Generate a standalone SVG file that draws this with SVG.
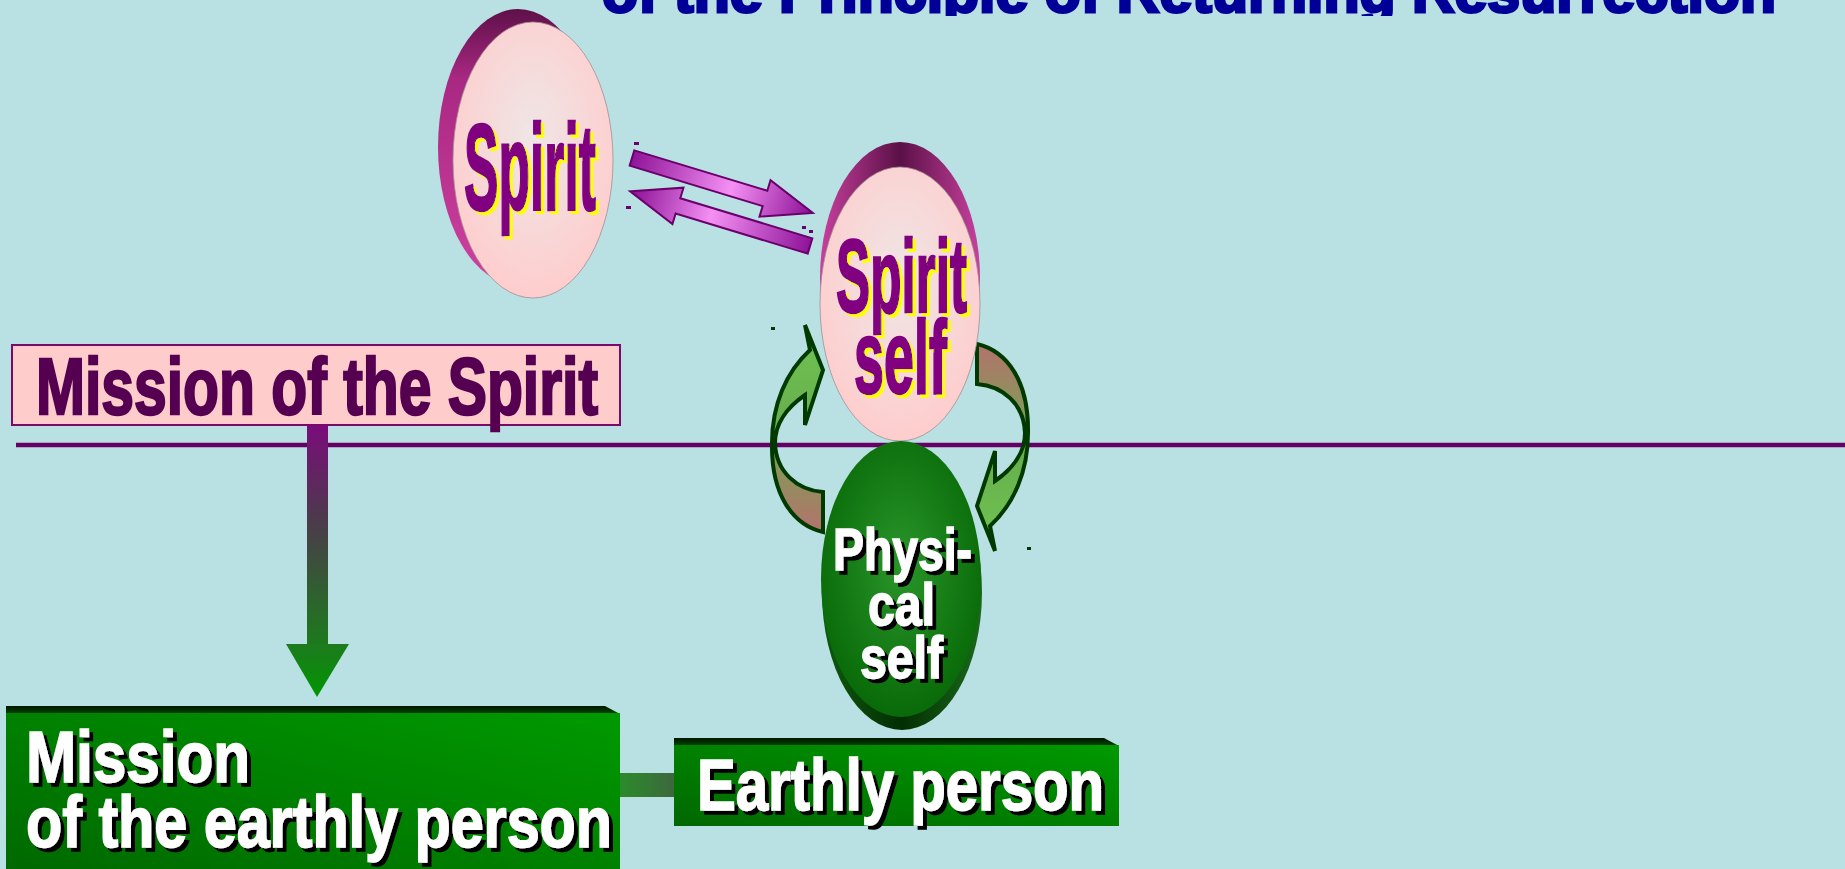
<svg xmlns="http://www.w3.org/2000/svg" width="1845" height="869" viewBox="0 0 1845 869">
<style>
.cond{font-family:"Liberation Sans Narrow","Liberation Sans",Arial,sans-serif;font-weight:bold;}
.purp{fill:#800080;stroke:#800080;stroke-width:2.5;paint-order:stroke;filter:url(#shY);}
.wht{fill:#FFFFFF;stroke:#FFFFFF;stroke-width:1.6;filter:url(#shK);}
.blk{stroke:#6A006A;stroke-width:2;}
.garrow{stroke:#003A00;stroke-width:4;stroke-linejoin:miter;}
</style>
<defs>
<filter id="shY" x="-10%" y="-10%" width="125%" height="125%">
<feOffset in="SourceAlpha" dx="3" dy="3" result="o"/>
<feFlood flood-color="#FFFF00"/>
<feComposite in2="o" operator="in" result="s"/>
<feMerge><feMergeNode in="s"/><feMergeNode in="SourceGraphic"/></feMerge>
</filter>
<filter id="shK" x="-10%" y="-10%" width="125%" height="125%">
<feOffset in="SourceAlpha" dx="3.5" dy="3.5" result="o"/>
<feFlood flood-color="#000000"/>
<feComposite in2="o" operator="in" result="s"/>
<feMerge><feMergeNode in="s"/><feMergeNode in="SourceGraphic"/></feMerge>
</filter>
<clipPath id="titleClip"><rect x="0" y="0" width="1845" height="16"/></clipPath>
<radialGradient id="pinkFace" cx="0.5" cy="0.42" r="0.6">
<stop offset="0" stop-color="#EFE6E6"/>
<stop offset="1" stop-color="#FFCCCC"/>
</radialGradient>
<linearGradient id="rimSpirit" x1="0" y1="0" x2="0" y2="1">
<stop offset="0" stop-color="#5E1048"/>
<stop offset="0.25" stop-color="#A82882"/>
<stop offset="1" stop-color="#D040A0"/>
</linearGradient>
<linearGradient id="rimSelf" x1="0" y1="0" x2="1" y2="0">
<stop offset="0" stop-color="#C8409E"/>
<stop offset="0.5" stop-color="#5A1046"/>
<stop offset="1" stop-color="#C8409E"/>
</linearGradient>
<radialGradient id="greenFace" cx="0.5" cy="0.45" r="0.6">
<stop offset="0" stop-color="#2A962A"/>
<stop offset="1" stop-color="#056605"/>
</radialGradient>
<linearGradient id="rimGreen" x1="0" y1="0" x2="1" y2="0">
<stop offset="0" stop-color="#0E5A0E"/>
<stop offset="0.5" stop-color="#032E03"/>
<stop offset="1" stop-color="#1A6A1A"/>
</linearGradient>
<linearGradient id="blockArrow" x1="0" y1="0" x2="1" y2="0">
<stop offset="0" stop-color="#8E1498"/>
<stop offset="0.55" stop-color="#F490F4"/>
<stop offset="1" stop-color="#8A0E94"/>
</linearGradient>
<linearGradient id="curveArrow" x1="0" y1="0" x2="0" y2="1">
<stop offset="0" stop-color="#70C452"/>
<stop offset="0.45" stop-color="#68B04E"/>
<stop offset="1" stop-color="#B4726C"/>
</linearGradient>
<linearGradient id="vShaft" x1="0" y1="0" x2="0" y2="1">
<stop offset="0" stop-color="#7A0C7A"/>
<stop offset="0.45" stop-color="#4A3C4A"/>
<stop offset="1" stop-color="#1C7A1C"/>
</linearGradient>
<linearGradient id="vHead" x1="0" y1="0" x2="0" y2="1">
<stop offset="0" stop-color="#1E7A1E"/>
<stop offset="1" stop-color="#009600"/>
</linearGradient>
<linearGradient id="boxGreen" x1="0" y1="1" x2="1" y2="0">
<stop offset="0" stop-color="#006800"/>
<stop offset="1" stop-color="#009A00"/>
</linearGradient>
<linearGradient id="boxTop" x1="0" y1="0" x2="0" y2="1">
<stop offset="0" stop-color="#001400"/>
<stop offset="1" stop-color="#004A00"/>
</linearGradient>
<linearGradient id="bar" x1="0" y1="0" x2="1" y2="0">
<stop offset="0" stop-color="#2A8C2A"/>
<stop offset="1" stop-color="#3E663E"/>
</linearGradient>
</defs>

<rect x="0" y="0" width="1845" height="869" fill="#B9E0E3"/>

<g id="title" clip-path="url(#titleClip)">
<text class="cond" x="602" y="12" font-size="60" textLength="1174" lengthAdjust="spacingAndGlyphs" fill="#000099" stroke="#000099" stroke-width="3">of the Principle of Returning Resurrection</text>
</g>

<line id="divider" x1="16" y1="445" x2="1845" y2="445" stroke="#660066" stroke-width="4.5"/>

<g id="connectors">
<g transform="translate(632,158) rotate(16.9)">
<polygon class="blk" fill="url(#blockArrow)" points="0,-8 139,-8 139,-19 189,0 139,19 139,8 0,8"/>
</g>
<g transform="translate(810,246) rotate(196.9)">
<polygon class="blk" fill="url(#blockArrow)" points="0,-8 138,-8 138,-19 188,0 138,19 138,8 0,8"/>
</g>
<rect x="634" y="142" width="5" height="3" fill="#6A006A"/>
<rect x="626" y="206" width="5" height="3" fill="#6A006A"/>
<rect x="802" y="226" width="4" height="3" fill="#6A006A"/>
<rect x="809" y="230" width="4" height="3" fill="#6A006A"/>
<path id="curveLeft" class="garrow" fill="url(#curveArrow)" d="M823,532 C793,525 771,495 772,443 C772,405 786,372 810,350 L805,325 L823,370 L805,425 L805,395 C786,408 775,425 775,443 C776,472 797,490 823,492 Z"/>
<path id="curveRight" class="garrow" fill="url(#curveArrow)" transform="rotate(180 900 438)" d="M823,532 C793,525 771,495 772,443 C772,405 786,372 810,350 L805,325 L823,370 L805,425 L805,395 C786,408 775,425 775,443 C776,472 797,490 823,492 Z"/>
<rect x="771" y="327" width="4" height="3" fill="#003A00"/>
<rect x="1027" y="547" width="4" height="3" fill="#003A00"/>
<rect x="307" y="425" width="21" height="220" fill="url(#vShaft)"/>
<polygon points="286,644 349,644 317,697" fill="url(#vHead)"/>
<rect x="619" y="773" width="58" height="24" fill="url(#bar)"/>
</g>

<g id="node-spirit">
<ellipse cx="518" cy="147" rx="80" ry="138" fill="url(#rimSpirit)"/>
<ellipse cx="533" cy="160" rx="80" ry="138" fill="url(#pinkFace)" stroke="#A09090" stroke-width="0.8"/>
<text class="cond purp" x="464" y="210" font-size="122" textLength="132" lengthAdjust="spacingAndGlyphs">Spirit</text>
</g>

<g id="node-spirit-self">
<ellipse cx="900" cy="278" rx="80" ry="136" fill="url(#rimSelf)"/>
<ellipse cx="900" cy="304" rx="80" ry="137" fill="url(#pinkFace)" stroke="#A09090" stroke-width="0.8"/>
<text class="cond purp" x="836" y="312" font-size="103" textLength="131" lengthAdjust="spacingAndGlyphs">Spirit</text>
<text class="cond purp" x="854" y="393" font-size="103" textLength="93" lengthAdjust="spacingAndGlyphs">self</text>
</g>

<g id="node-physical-self">
<ellipse cx="902" cy="592" rx="80" ry="138" fill="url(#rimGreen)"/>
<ellipse cx="901" cy="579" rx="80" ry="138" fill="url(#greenFace)"/>
<text class="cond wht" x="833" y="570" font-size="60" textLength="139" lengthAdjust="spacingAndGlyphs">Physi-</text>
<text class="cond wht" x="868" y="625" font-size="60" textLength="67" lengthAdjust="spacingAndGlyphs">cal</text>
<text class="cond wht" x="860" y="678" font-size="60" textLength="83" lengthAdjust="spacingAndGlyphs">self</text>
</g>

<g id="node-mission-spirit">
<rect x="12" y="345" width="608" height="80" fill="#FFCCCC" stroke="#7A0A6A" stroke-width="2"/>
<text class="cond" x="36" y="414" font-size="80" textLength="562" lengthAdjust="spacingAndGlyphs" fill="#550050" stroke="#550050" stroke-width="2.5">Mission of the Spirit</text>
</g>

<g id="node-mission-earthly">
<polygon points="6,706 605,706 620,714 6,714" fill="url(#boxTop)"/>
<rect x="6" y="713" width="614" height="160" fill="url(#boxGreen)"/>
<text class="cond wht" x="26" y="782" font-size="73" textLength="224" lengthAdjust="spacingAndGlyphs">Mission</text>
<text class="cond wht" x="26" y="847" font-size="73" textLength="586" lengthAdjust="spacingAndGlyphs">of the earthly person</text>
</g>

<g id="node-earthly-person">
<polygon points="674,738 1104,738 1119,746 674,746" fill="url(#boxTop)"/>
<rect x="674" y="745" width="445" height="81" fill="url(#boxGreen)"/>
<text class="cond wht" x="697" y="810" font-size="73" textLength="407" lengthAdjust="spacingAndGlyphs">Earthly person</text>
</g>
</svg>
